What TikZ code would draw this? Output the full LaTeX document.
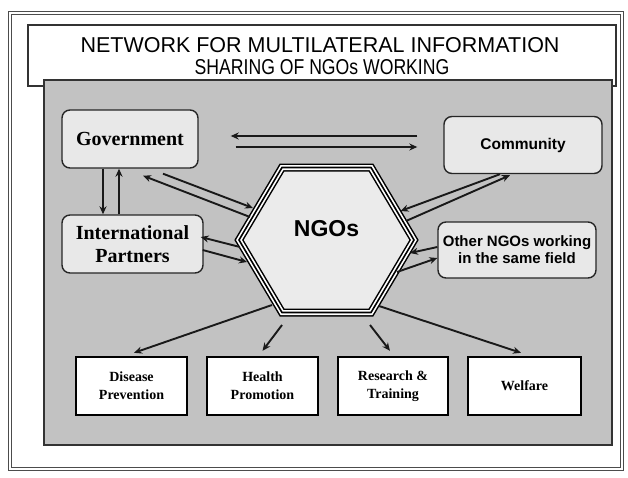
\documentclass[tikz,border=0pt]{standalone}
\usepackage{fontspec}
\setmainfont{Liberation Serif}
\newfontfamily\arialf{Liberation Sans}
\usetikzlibrary{arrows.meta,calc}
\tikzset{
  rbox/.style={draw=black!85, line width=1.4pt, rounded corners=8pt, fill=black!9, inner sep=2pt, align=center},
  sbox/.style={draw=black, line width=2.4pt, fill=white, minimum height=58pt, inner sep=2pt, align=center,
               font=\bfseries\fontsize{14}{18}\selectfont},
  arr/.style={draw=black!90, line width=1.9pt, -{Stealth[length=8pt,width=7pt]}},
  titletext/.style={font=\arialf\fontsize{21.5}{21}\selectfont},
}
\begin{document}
\begin{tikzpicture}[x=1pt,y=-1pt]
\useasboundingbox (0,0) rectangle (628,477);
\fill[white] (0,0) rectangle (628,477);
% outer frame
\draw[black!70, line width=1pt, double, double distance=2pt] (10,13) rectangle (622,469);
% title box
\draw[black!80, line width=2.2pt, fill=white] (28,25) rectangle (616,86);
\node[titletext] (t1) at (320,45) {NETWORK FOR MULTILATERAL INFORMATION};
\node[titletext, xscale=0.82] (t2) at (322,67) {SHARING OF NGOs WORKING};
% panel
\draw[black!80, line width=2.5pt, fill=black!24] (44,80) rectangle (612,445);

% boxes
\node[rbox, minimum width=136pt, minimum height=58pt, font=\bfseries\fontsize{20}{23}\selectfont] (gov) at (130,139) {Government};
\node[rbox, minimum width=141pt, minimum height=58pt, font=\bfseries\fontsize{20}{23}\selectfont] (intl) at (132.5,244) {International\\Partners};
\node[rbox, minimum width=158pt, minimum height=57pt, font=\arialf\bfseries\fontsize{15.5}{17}\selectfont] (comm) at (523,145) {Community};
\node[rbox, minimum width=158pt, minimum height=56pt, inner sep=0pt, font=\arialf\bfseries\fontsize{15}{17}\selectfont] (other) at (517,250) {Other NGOs working\\in the same field};

\node[sbox, minimum width=111pt] (dis) at (131.5,386) {Disease\\Prevention};
\node[sbox, minimum width=111pt] (hea) at (262.5,386) {Health\\Promotion};
\node[sbox, minimum width=110pt] (res) at (393,386) {Research \&\\Training};
\node[sbox, minimum width=113pt] (wel) at (524.5,386) {Welfare};

% hexagon
\coordinate (ngo) at (326.5,240);
\coordinate (h1) at ($(ngo)+(-44.5,-72.5)$);
\coordinate (h2) at ($(ngo)+(44.5,-72.5)$);
\coordinate (h3) at ($(ngo)+(87.5,0)$);
\coordinate (h4) at ($(ngo)+(44.5,72.5)$);
\coordinate (h5) at ($(ngo)+(-44.5,72.5)$);
\coordinate (h6) at ($(ngo)+(-87.5,0)$);
\fill[black!8] (h1)--(h2)--(h3)--(h4)--(h5)--(h6)--cycle;
\draw[black, line width=8pt, line join=miter] (h1)--(h2)--(h3)--(h4)--(h5)--(h6)--cycle;
\draw[white, line width=5pt, line join=miter] (h1)--(h2)--(h3)--(h4)--(h5)--(h6)--cycle;
\draw[black, line width=1.6pt, line join=miter] (h1)--(h2)--(h3)--(h4)--(h5)--(h6)--cycle;
\node[font=\arialf\bfseries\fontsize{23}{25}\selectfont] (ngotxt) at ($(ngo)+(0,-11)$) {NGOs};

% Government <-> Community
\draw[arr, line width=2.4pt] ($(comm.west)+(-26,-9)$) -- ($(gov.east)+(32,-3)$);
\draw[arr, line width=2.4pt] ($(gov.east)+(37,8)$) -- ($(comm.west)+(-26,2)$);
% Government <-> International
\draw[arr] ([xshift=-27pt]gov.south) -- ([xshift=-27pt]gov.south |- intl.north);
\draw[arr] ([xshift=-11pt]gov.south |- intl.north) -- ([xshift=-11pt]gov.south);
% Government <-> NGOs
\draw[arr] ($(gov.south)+(33,5)$) -- ($(ngo)+(-73.5,-32)$);
\draw[arr] ($(ngo)+(-76.5,-23)$) -- ($(gov.south)+(13,7)$);
% International <-> NGOs
\draw[arr] ($(ngo)+(-86.5,7)$) -- ($(intl.east)+(-3,-7)$);
\draw[arr] ($(intl.east)+(-1,6)$) -- ($(ngo)+(-79.5,22)$);
% Community <-> NGOs
\draw[arr] ($(ngo)+(79.5,-19)$) -- ($(comm.south)+(-13,1)$);
\draw[arr] ($(comm.south)+(-23,0)$) -- ($(ngo)+(74,-29)$);
% Other NGOs <-> NGOs
\draw[arr] ($(other.west)+(0,-3)$) -- ($(ngo)+(83.5,13)$);
\draw[arr] ($(ngo)+(70.5,32)$) -- ($(other.west)+(0,8)$);
% NGOs -> areas
\draw[arr] ($(ngo)+(-54.5,65)$) -- ($(dis.north)+(2.5,-3)$);
\draw[arr] ($(ngo)+(-44.5,85)$) -- ($(hea.north)+(0,-5)$);
\draw[arr] ($(ngo)+(43.5,85)$) -- ($(res.north)+(-3,-5)$);
\draw[arr] ($(ngo)+(52.5,66)$) -- ($(wel.north)+(-3.5,-3)$);
\end{tikzpicture}
\end{document}
